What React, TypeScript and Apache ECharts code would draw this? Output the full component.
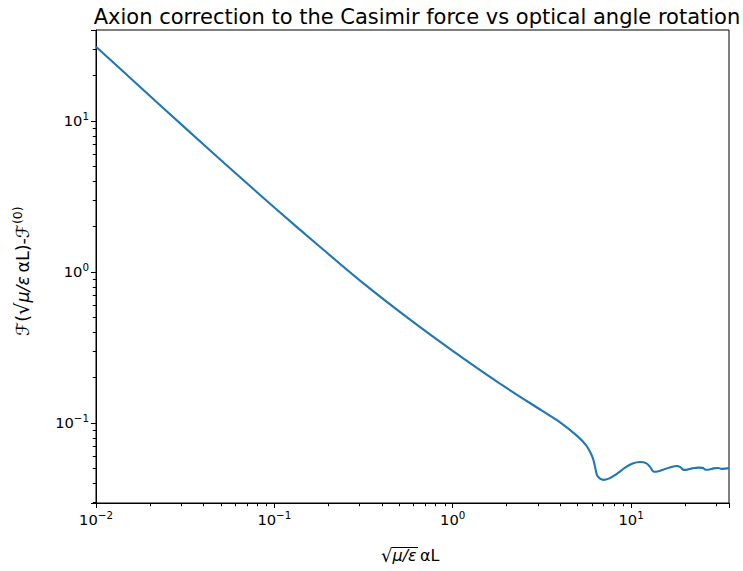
import React, { useEffect, useRef } from "react";
import * as echarts from "echarts";

const xValues = [0.01, 0.0178, 0.0316, 0.0562, 0.1, 0.178, 0.316, 0.562, 1.0, 1.78, 3.16, 4.0, 5.0, 5.6, 6.03, 6.2, 6.35, 6.5, 7.0, 7.5, 8.2, 9.26, 10.2, 11.2, 12.2, 12.8, 13.3, 13.8, 15.5, 17.0, 18.0, 18.9, 19.5, 20.2, 22, 23.8, 25.2, 26.2, 27, 29, 30.8, 31.8, 32.5, 35.4];
const yValues = [31, 16.65, 8.99, 4.88, 2.67, 1.484, 0.839, 0.494, 0.3, 0.187, 0.1206, 0.101, 0.0818, 0.071, 0.0607, 0.055, 0.048, 0.0443, 0.042, 0.0428, 0.0455, 0.0505, 0.0538, 0.0551, 0.054, 0.051, 0.0478, 0.0475, 0.0495, 0.0513, 0.0519, 0.051, 0.0492, 0.0489, 0.05, 0.0506, 0.0504, 0.049, 0.049, 0.05, 0.0503, 0.0498, 0.0496, 0.0502];

const xMin = 0.01;
const xMax = 35.4;
const yMin = 0.0295;
const yMax = 40;

const xMinorTicks = [0.02, 0.03, 0.04, 0.05, 0.06, 0.07, 0.08, 0.09, 0.2, 0.3, 0.4, 0.5, 0.6, 0.7, 0.8, 0.9, 2, 3, 4, 5, 6, 7, 8, 9, 20, 30];
const yMinorTicks = [0.03, 0.04, 0.05, 0.06, 0.07, 0.08, 0.09, 0.2, 0.3, 0.4, 0.5, 0.6, 0.7, 0.8, 0.9, 2, 3, 4, 5, 6, 7, 8, 9, 20, 30, 40];

const titleText = "Axion correction to the Casimir force vs optical angle rotation";
const FONT = "DejaVu Sans";

function powLabel(v: number): string {
  const l = Math.log10(v);
  const e = Math.round(l);
  if (Math.abs(l - e) > 1e-6) return "";
  const es = e < 0 ? "\u2212" + Math.abs(e) : String(e);
  return "{b|10}{s|" + es + "}";
}

const labelRich = {
  b: { fontSize: 14.7, fontFamily: FONT, color: "#000" },
  s: { fontSize: 10.3, fontFamily: FONT, color: "#000", padding: [0, 0, 9, 0] },
};

export default function App() {
  const ref = useRef<HTMLDivElement>(null);
  useEffect(() => {
    if (!ref.current) return;
    const chart = echarts.init(ref.current, undefined, { renderer: "svg" });
    const tickItem = (dir: "x" | "y") => (params: any, api: any) => {
      const p = api.coord([api.value(0), api.value(1)]);
      const shape =
        dir === "x"
          ? { x1: Math.round(p[0]) + 0.5, y1: p[1], x2: Math.round(p[0]) + 0.5, y2: p[1] + 3.2 }
          : { x1: p[0], y1: Math.round(p[1]) + 0.5, x2: p[0] - 3.2, y2: Math.round(p[1]) + 0.5 };
      return { type: "line", shape, style: { stroke: "#000", lineWidth: 1 } };
    };
    chart.setOption({
      animation: false,
      backgroundColor: "#fff",
      title: {
        text: titleText,
        left: 412,
        top: 1,
        textAlign: "center",
        textStyle: { fontFamily: FONT, fontSize: 21, fontWeight: "normal", color: "#000" },
      },
      grid: {
        left: 96,
        right: 14,
        top: 30,
        bottom: 68,
        show: true,
        borderColor: "#000",
        borderWidth: 1,
      },
      xAxis: {
        type: "log",
        logBase: 10,
        min: xMin,
        max: xMax,
        axisLine: { show: true, lineStyle: { color: "#000", width: 1 } },
        axisTick: { show: true, inside: false, length: 5, lineStyle: { color: "#000", width: 1 } },
        splitLine: { show: false },
        axisLabel: { formatter: powLabel, rich: labelRich, margin: 7, color: "#000" },
      },
      yAxis: {
        type: "log",
        logBase: 10,
        min: yMin,
        max: yMax,
        axisLine: { show: true, lineStyle: { color: "#000", width: 1 } },
        axisTick: { show: true, inside: false, length: 5, lineStyle: { color: "#000", width: 1 } },
        splitLine: { show: false },
        axisLabel: { formatter: powLabel, rich: labelRich, margin: 7, color: "#000" },
      },
      series: [
        {
          type: "line",
          data: xValues.map((x, i) => [x, yValues[i]]),
          showSymbol: false,
          smooth: 0.3,
          lineStyle: { color: "#1f77b4", width: 2.1 },
          itemStyle: { color: "#1f77b4" },
          z: 3,
        },
        {
          type: "custom",
          clip: false,
          silent: true,
          z: 20,
          data: xMinorTicks.map((x) => [x, yMin]),
          renderItem: tickItem("x"),
        },
        {
          type: "custom",
          clip: false,
          silent: true,
          z: 20,
          data: yMinorTicks.map((y) => [xMin, y]),
          renderItem: tickItem("y"),
        },
      ],
      graphic: [
        {
          type: "group",
          x: 381,
          y: 546,
          children: [
            {
              type: "text",
              x: 0,
              y: 0,
              style: {
                text: "{s|\u221A}{m|\u03BC/\u03B5}{r|\u2009\u03B1L}",
                rich: {
                  s: { fontSize: 18, fontFamily: FONT, fill: "#000" },
                  m: { fontSize: 16, fontFamily: FONT, fontStyle: "italic", fill: "#000" },
                  r: { fontSize: 16, fontFamily: FONT, fill: "#000" },
                },
              },
            },
            { type: "line", shape: { x1: 11, y1: 1.5, x2: 37, y2: 1.5 }, style: { stroke: "#000", lineWidth: 1 } },
          ],
        },
        {
          type: "group",
          x: 11,
          y: 336,
          rotation: Math.PI / 2,
          children: [
            {
              type: "text",
              x: 0,
              y: 0,
              style: {
                text: "{f|\u2131}{r|(}{s|\u221A}{m|\u03BC/\u03B5}{r|\u2009\u03B1L)-}{f|\u2131}{sup|(0)}",
                rich: {
                  f: { fontSize: 18, fontFamily: FONT, fontStyle: "italic", fill: "#000" },
                  r: { fontSize: 17.5, fontFamily: FONT, fill: "#000" },
                  s: { fontSize: 19.5, fontFamily: FONT, fill: "#000" },
                  m: { fontSize: 17.5, fontFamily: FONT, fontStyle: "italic", fill: "#000" },
                  sup: { fontSize: 12.5, fontFamily: FONT, fill: "#000", padding: [0, 0, 10, 0] },
                },
              },
            },
          ],
        },
      ],
    });
    return () => chart.dispose();
  }, []);
  return <div ref={ref} style={{ width: 743, height: 571, position: "absolute", left: 0, top: 0 }} />;
}
